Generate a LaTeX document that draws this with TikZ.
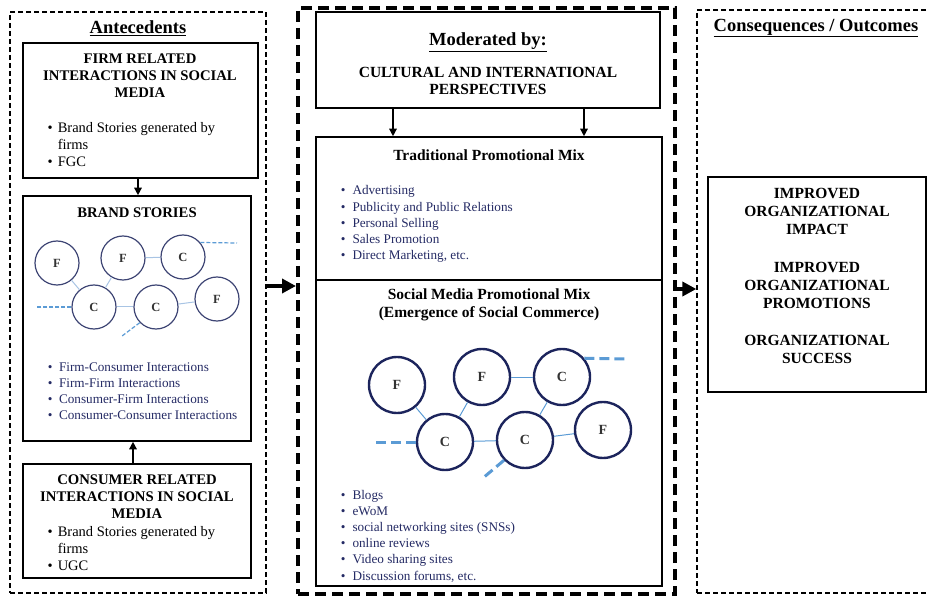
\documentclass[tikz,border=0pt]{standalone}
\usepackage{fontspec}
\setmainfont{Liberation Serif}
\usepackage{tikz}
\usetikzlibrary{calc,positioning,arrows.meta}

\definecolor{navytext}{RGB}{36,42,100}
\definecolor{navyring}{RGB}{28,36,92}
\definecolor{linkblue}{RGB}{91,155,213}
\definecolor{palelink}{RGB}{168,196,228}

\newcommand{\fs}[2]{\fontsize{#1}{#2}\selectfont}

\begin{document}
\begin{tikzpicture}[x=1pt,y=-1pt,
    box/.style={draw,line width=1.6pt,inner sep=0pt},
    thinframe/.style={draw,line width=1.3pt,dash pattern=on 5pt off 3pt,inner sep=0pt},
    thickframe/.style={draw,line width=4pt,dash pattern=on 11pt off 6pt,inner sep=0pt},
    heading/.style={font=\bfseries\fs{18.5}{22}},
    capstitle/.style={font=\bfseries\fs{14.7}{17},align=center},
    mixtitle/.style={font=\bfseries\fs{15.5}{17.5},align=center},
    klist/.style={anchor=base west,inner sep=0pt,font=\fs{14.5}{17}},
    blist/.style={anchor=base west,inner sep=0pt,font=\fs{13.2}{16.2},text=navytext},
    bring/.style={circle,draw=navyring!85,line width=1.2pt,minimum size=44pt,inner sep=0pt,font=\bfseries\fs{12.5}{12.5},text=black!80},
    sring/.style={circle,draw=navyring,line width=2.4pt,minimum size=56pt,inner sep=0pt,font=\bfseries\fs{14}{14},text=black!80},
    plink/.style={palelink,line width=1pt},
    slink/.style={linkblue,line width=1pt},
    pdash/.style={linkblue,line width=1.2pt,dash pattern=on 4pt off 2pt},
    sdash/.style={linkblue,line width=3pt,dash pattern=on 10pt off 5pt},
    arr/.style={line width=1.4pt,-{Triangle[length=7.5pt,width=7.5pt]}},
    bigarr/.style={line width=4pt,-{Triangle[length=14pt,width=14pt]}}]
    \useasboundingbox (0,0) rectangle (927,596);

    % three columns
    \node[thinframe,minimum width=256pt,minimum height=581pt] (ante) at (138,302.5) {};
    \node[thickframe,minimum width=377pt,minimum height=586pt] (mid) at (486.5,301) {};
    \node[thinframe,minimum width=263pt,minimum height=583pt] (conseq) at (828.5,301.5) {};
    \node[heading] (anteT) at (138,28) {\underline{Antecedents}};
    \node[heading] (conseqT) at (816,28) {\underline{Consequences / Outcomes}};

    % antecedents
    \node[box,minimum width=235pt,minimum height=135pt] (firm) at (140.5,110.5) {};
    \node[box,minimum width=228pt,minimum height=245pt] (brand) at (137,318.5) {};
    \node[box,minimum width=228pt,minimum height=114pt] (cons) at (137,521) {};

    \node[capstitle] (firmT) at (140,76) {FIRM RELATED\\INTERACTIONS IN SOCIAL\\MEDIA};
    \node[klist] (firmL) at (47.5,133) {\begin{tabular}[t]{@{}l@{\hspace{5pt}}l@{}}
        \textbullet & Brand Stories generated by\\ & firms\\ \textbullet & FGC\end{tabular}};
    \node[capstitle] (brandT) at (137,213) {BRAND STORIES};
    \node[blist] (brandL) at (47.7,371) {\begin{tabular}[t]{@{}l@{\hspace{6.5pt}}l@{}}
        \textbullet & Firm-Consumer Interactions\\ \textbullet & Firm-Firm Interactions\\
        \textbullet & Consumer-Firm Interactions\\ \textbullet & Consumer-Consumer Interactions\end{tabular}};
    \node[capstitle] (consT) at (137,497) {CONSUMER RELATED\\INTERACTIONS IN SOCIAL\\MEDIA};
    \node[klist] (consL) at (47.5,536) {\begin{tabular}[t]{@{}l@{\hspace{5pt}}l@{}}
        \textbullet & Brand Stories generated by\\ & firms\\ \textbullet & UGC\end{tabular}};

    \draw[arr] (firm.south -| 138,0) -- (brand.north -| 138,0);
    \draw[arr] (cons.north -| 133,0) -- (brand.south -| 133,0);

    % small network
    \node[bring] (bf1) at (57,263) {F};
    \node[bring] (bf2) at (123,258) {F};
    \node[bring] (bc1) at (183,257) {C};
    \node[bring] (bc2) at (94,307) {C};
    \node[bring] (bc3) at (156,307) {C};
    \node[bring] (bf3) at (217,299) {F};
    \draw[plink] (bf1) -- (bc2);
    \draw[plink] (bf2) -- (bc2);
    \draw[plink] (bf2) -- (bc1);
    \draw[plink] (bc2) -- (bc3);
    \draw[plink] (bc3) -- (bf3);
    \coordinate (bd1) at (237,243);
    \coordinate (bd2) at (37,307);
    \coordinate (bd3) at (122,336);
    \draw[pdash] (bc1.40) -- (bd1);
    \draw[pdash] (bc2.west) -- (bd2);
    \draw[pdash] (bc3.224) -- (bd3);

    % moderator and promotional mix
    \node[box,minimum width=344pt,minimum height=96pt] (mod) at (488,60) {};
    \node[box,minimum width=346pt,minimum height=143pt] (trad) at (489,208.5) {};
    \node[box,minimum width=346pt,minimum height=306pt] (soc) at (489,433) {};

    \node[heading] (modT) at (488,42) {\underline{Moderated by:}};
    \node[mixtitle] (modS) at (488,81) {CULTURAL AND INTERNATIONAL\\PERSPECTIVES};
    \draw[arr] (mod.south -| 393,0) -- (trad.north -| 393,0);
    \draw[arr] (mod.south -| 584,0) -- (trad.north -| 584,0);

    \node[mixtitle] (tradT) at (489,155) {Traditional Promotional Mix};
    \node[blist] (tradL) at (340.7,195) {\begin{tabular}[t]{@{}l@{\hspace{7pt}}l@{}}
        \textbullet & Advertising\\ \textbullet & Publicity and Public Relations\\
        \textbullet & Personal Selling\\ \textbullet & Sales Promotion\\
        \textbullet & Direct Marketing, etc.\end{tabular}};

    \node[mixtitle] (socT) at (489,305) {Social Media Promotional Mix\\(Emergence of Social Commerce)};
    \node[sring] (sf1) at (397,385) {F};
    \node[sring] (sf2) at (482,377) {F};
    \node[sring] (sc1) at (562,377) {C};
    \node[sring] (sc2) at (445,442) {C};
    \node[sring] (sc3) at (525,440) {C};
    \node[sring] (sf3) at (603,430) {F};
    \draw[slink] (sf1) -- (sc2);
    \draw[slink] (sf2) -- (sc2);
    \draw[slink] (sf2) -- (sc1);
    \draw[slink] (sc1) -- (sc3);
    \draw[slink] (sc2) -- (sc3);
    \draw[slink] (sc3) -- (sf3);
    \coordinate (sd1) at (628,359);
    \coordinate (sd2) at (371,442);
    \coordinate (sd3) at (483,478);
    \draw[sdash] (sc1.40) -- (sd1);
    \draw[sdash] (sc2.west) -- (sd2);
    \draw[sdash] (sc3.224) -- (sd3);

    \node[blist] (socL) at (340.7,499) {\begin{tabular}[t]{@{}l@{\hspace{7pt}}l@{}}
        \textbullet & Blogs\\ \textbullet & eWoM\\ \textbullet & social networking sites (SNSs)\\
        \textbullet & online reviews\\ \textbullet & Video sharing sites\\
        \textbullet & Discussion forums, etc.\end{tabular}};

    % outcomes
    \node[box,minimum width=218pt,minimum height=215pt] (outc) at (817,284.5) {};
    \node[font=\bfseries\fs{15.5}{18},align=center] (outcT) at (817,275.5) {IMPROVED\\ORGANIZATIONAL\\IMPACT\\[20pt]
        IMPROVED\\ORGANIZATIONAL\\PROMOTIONS\\[19pt]ORGANIZATIONAL\\SUCCESS};

    \draw[bigarr] (ante.east |- 0,286) -- (mid.west |- 0,286);
    \draw[bigarr] (mid.east |- 0,289) -- (conseq.west |- 0,289);
\end{tikzpicture}
\end{document}
